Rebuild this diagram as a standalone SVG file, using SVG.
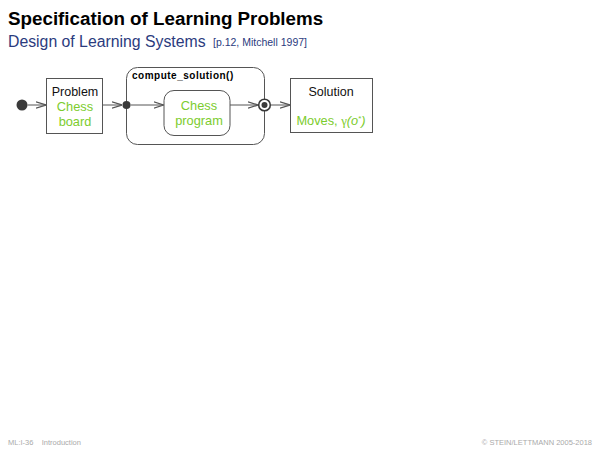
<svg xmlns="http://www.w3.org/2000/svg" width="600" height="450" viewBox="0 0 600 450">
  <defs>
    <marker id="open-arrow" viewBox="0 0 10 10" refX="10" refY="5" markerWidth="10" markerHeight="10" markerUnits="userSpaceOnUse" orient="auto">
      <path d="M0,1.8 L10,5 L0,8.2" fill="none" stroke="#555" stroke-width="1.2"/>
    </marker>
    <style>
      .title { font-family: "Liberation Sans", Arial, sans-serif; font-weight: bold; font-size: 18.8px; fill: #000; }
      .subtitle { font-family: "Liberation Sans", Arial, sans-serif; font-size: 15.8px; fill: #2b3b7e; }
      .ref { font-family: "Liberation Sans", Arial, sans-serif; font-size: 10.5px; fill: #2b3b7e; }
      .foot { font-family: "Liberation Sans", Arial, sans-serif; font-size: 7.5px; fill: #aaa; }
      .box { fill: #fff; stroke: #555; stroke-width: 1; }
      .lbl { font-family: "Liberation Sans", Arial, sans-serif; font-size: 12.5px; fill: #111; text-anchor: middle; }
      .grn { font-family: "Liberation Sans", Arial, sans-serif; font-size: 12.8px; fill: #7ccc2e; text-anchor: middle; }
      .bold { font-family: "Liberation Sans", Arial, sans-serif; font-size: 10px; font-weight: bold; fill: #000; letter-spacing: 0.5px; }
      .edge { stroke: #555; stroke-width: 1; fill: none; marker-end: url(#open-arrow); }
      .dot { fill: #3a3a3a; }
    </style>
  </defs>

  <!-- page heading -->
  <text class="title" x="8" y="25">Specification of Learning Problems</text>
  <text class="subtitle" x="8" y="47">Design of Learning Systems</text>
  <text class="ref" x="213" y="46">[p.12, Mitchell 1997]</text>

  <!-- composite activity -->
  <g id="compute_solution">
    <rect class="box" x="126.5" y="67.5" width="138" height="77" rx="11"/>
    <text class="bold" x="132" y="78.5">compute_solution()</text>
  </g>

  <g id="start">
    <circle class="dot" cx="22" cy="105" r="5.5"/>
  </g>

  <g id="problem">
    <rect class="box" x="46.5" y="78.5" width="56" height="55"/>
    <text class="lbl" x="75" y="96">Problem</text>
    <text class="grn" x="75" y="111">Chess</text>
    <text class="grn" x="75" y="126">board</text>
  </g>

  <g id="entry">
    <circle class="dot" cx="126.5" cy="105" r="4"/>
  </g>

  <g id="chess_program">
    <rect class="box" x="164" y="90.5" width="66" height="45" rx="10"/>
    <text class="grn" x="199" y="110">Chess</text>
    <text class="grn" x="199" y="125">program</text>
  </g>

  <g id="exit">
    <circle cx="264.5" cy="105" r="5.8" fill="#fff" stroke="#3a3a3a" stroke-width="1.6"/>
    <circle class="dot" cx="264.5" cy="105" r="3"/>
  </g>

  <g id="solution">
    <rect class="box" x="290.5" y="78.5" width="82" height="54"/>
    <text class="lbl" x="331" y="96">Solution</text>
    <text class="grn" x="331" y="125">Moves, <tspan font-family="'Liberation Serif', serif">γ</tspan><tspan font-style="italic">(o</tspan><tspan font-size="8" dy="-4">*</tspan><tspan dy="4" font-style="italic">)</tspan></text>
  </g>

  <!-- connectors -->
  <g id="connectors">
    <line class="edge" x1="27.5" y1="105" x2="46" y2="105"/>
    <line class="edge" x1="103" y1="105" x2="122" y2="105"/>
    <line class="edge" x1="130.5" y1="105" x2="163.5" y2="105"/>
    <line class="edge" x1="230" y1="105" x2="258" y2="105"/>
    <line class="edge" x1="270.5" y1="105" x2="290" y2="105"/>
  </g>

  <!-- footer -->
  <text class="foot" x="8" y="445" xml:space="preserve">ML:I-36    Introduction</text>
  <text class="foot" x="592" y="445" text-anchor="end">© STEIN/LETTMANN 2005-2018</text>
</svg>
